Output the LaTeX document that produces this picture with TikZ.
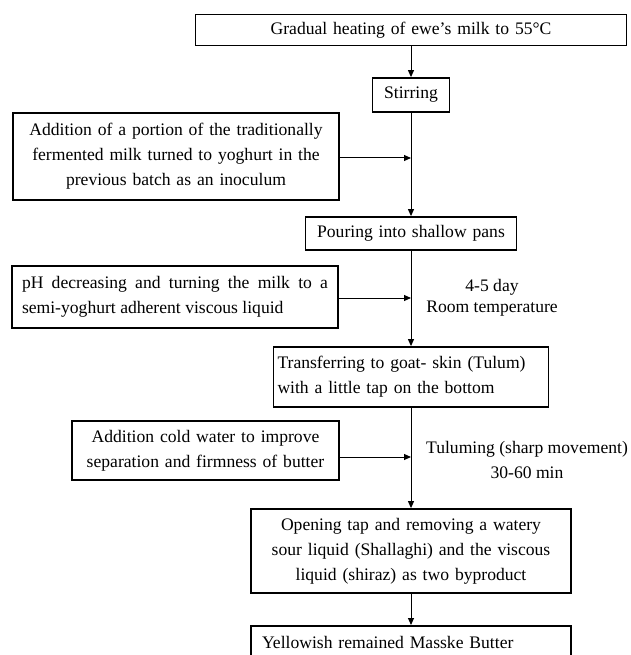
\documentclass[tikz,border=0pt]{standalone}
\usepackage{fontspec}
\setmainfont{Liberation Serif}
\usetikzlibrary{arrows.meta}

\tikzset{
  stepbox/.style={draw=black, line width=1.8pt, inner xsep=4pt, inner ysep=3pt, align=center},
  flow/.style={->, line width=1pt},
}

\begin{document}
\begin{tikzpicture}[>={Triangle[length=7pt, width=6pt]}, x=1pt, y=-1pt, font=\fontsize{17.6}{25}\selectfont]
	\clip (0,0) rectangle (630,655);
	\node[stepbox, text width=423pt, minimum height=31pt] (heat) at (411,30){Gradual heating of ewe’s milk to 55°C};
	\node[stepbox, text width=69pt, minimum height=34pt] (stir) at (411,95){Stirring};
	\node[stepbox, text width=318pt, minimum height=87pt] (inoc) at (176,156.5)%
		{Addition of a portion of the traditionally\\fermented milk turned to yoghurt in the\\previous batch as an inoculum};
	\node[stepbox, text width=203pt, minimum height=33pt] (pour) at (411,233.5){Pouring into shallow pans};
	\node[stepbox, inner xsep=10pt, text width=306pt, minimum height=62pt, align=justify] (ph) at (175,297)%
		{pH decreasing and turning the milk to a\linebreak semi-yoghurt adherent viscous liquid};
	\node[stepbox, text width=267pt, minimum height=60pt, align=left] (tulum) at (411,377)%
		{Transferring to goat- skin (Tulum)\\with a little tap on the bottom};
	\node[stepbox, text width=259pt, minimum height=59pt] (cold) at (205.5,450.5)%
		{Addition cold water to improve\\separation and firmness of butter};
	\node[stepbox, text width=312pt, minimum height=84pt] (open) at (411,551)%
		{Opening tap and removing a watery\\sour liquid (Shallaghi) and the viscous\\liquid (shiraz) as two byproduct};
	\node[stepbox, anchor=north, inner xsep=11pt, inner ysep=10pt, text width=298pt, text depth=30pt, align=left] (butter) at (411,625)%
		{Yellowish remained Masske Butter};

	\node[align=center] (days) at (492,297.5){4-5 day\\[-4pt]Room temperature};
	\node[align=center] (churn) at (527,459.5){Tuluming (sharp movement)\\30-60 min};

	\coordinate (j1) at (411,158);
	\coordinate (j2) at (411,298);
	\coordinate (j3) at (411,457);

	\draw[flow] (heat) -- (stir);
	\draw[flow] (stir) -- (pour);
	\draw[flow] (pour) -- (tulum);
	\draw[flow] (tulum) -- (open);
	\draw[flow] (open) -- (butter);
	\draw[flow] (inoc.east |- j1) -- (j1);
	\draw[flow] (ph.east |- j2) -- (j2);
	\draw[flow] (cold.east |- j3) -- (j3);

\end{tikzpicture}
\end{document}
